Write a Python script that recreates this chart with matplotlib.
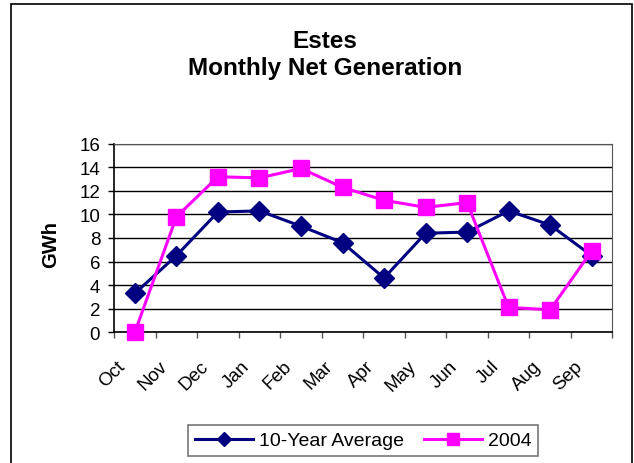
import numpy as np
import matplotlib
matplotlib.use("Agg")
import matplotlib.pyplot as plt
import matplotlib.transforms as mtransforms
from matplotlib.patches import Rectangle

plt.rcParams['font.family'] = ['Liberation Sans', 'DejaVu Sans']

months = ['Oct', 'Nov', 'Dec', 'Jan', 'Feb', 'Mar',
          'Apr', 'May', 'Jun', 'Jul', 'Aug', 'Sep']
avg_10yr = [3.3, 6.5, 10.2, 10.3, 9.0, 7.6, 4.6, 8.4, 8.5, 10.3, 9.1, 6.5]
gen_2004 = [0.0, 9.8, 13.2, 13.1, 13.9, 12.3, 11.2, 10.6, 11.0, 2.1, 1.9, 6.9]
y_ticks = [0, 2, 4, 6, 8, 10, 12, 14, 16]

fig = plt.figure(figsize=(6.34, 4.64), dpi=100)
ax = fig.add_axes([0.18, 0.282, 0.786, 0.406])

# outer chart border
fig.patches.append(Rectangle((11 / 634, -0.01), 621 / 634, 1 - 5 / 464 + 0.01,
                             transform=fig.transFigure, fill=False,
                             edgecolor='black', lw=1.2))

x = np.arange(len(months))
ax.plot(x, avg_10yr, color='#000080', lw=2.2, marker='D', ms=10,
        label='10-Year Average', clip_on=False, zorder=3)
ax.plot(x, gen_2004, color='#FF00FF', lw=2.2, marker='s', ms=11,
        label='2004', clip_on=False, zorder=4)

ax.set_xlim(-0.5, len(months) - 0.5)
ax.set_ylim(0, 16)
ax.set_yticks(y_ticks)
ax.tick_params(axis='y', labelsize=13.5, length=4, width=1, pad=6,
               direction='out')
ax.yaxis.grid(True, color='black', lw=1)
ax.set_axisbelow(True)

ax.set_xticks(np.arange(-0.5, len(months)), labels=[])
ax.set_xticks(x, labels=months, minor=True)
ax.tick_params(axis='x', which='major', length=4, width=1, color='#555555')
ax.tick_params(axis='x', which='minor', length=0, labelsize=13.5, pad=18)
shift = mtransforms.ScaledTranslation(-13 / 72, 0, fig.dpi_scale_trans)
for lbl in ax.get_xticklabels(minor=True):
    lbl.set_rotation(45)
    lbl.set_ha('right')
    lbl.set_va('top')
    lbl.set_rotation_mode('anchor')
    lbl.set_transform(lbl.get_transform() + shift)

ax.spines['left'].set_linewidth(1.2)
ax.spines['bottom'].set_linewidth(1.2)
ax.spines['top'].set_color('#555555')
ax.spines['right'].set_color('#555555')

ax.set_ylabel('GWh', fontsize=14.5, fontweight='bold')
ax.yaxis.set_label_coords(-0.108, 0.47)

fig.text(0.513, 1 - 48 / 464, 'Estes', ha='center', va='baseline',
         fontsize=17.5, fontweight='bold')
fig.text(0.513, 1 - 75 / 464, 'Monthly Net Generation', ha='center',
         va='baseline', fontsize=17.5, fontweight='bold')

leg = ax.legend(loc='center', bbox_to_anchor=(0.5, -0.576), ncol=2,
                fontsize=14, frameon=True, fancybox=False,
                handlelength=3, columnspacing=1.0, handletextpad=0.3,
                borderpad=0.35, markerscale=0.75)
leg.get_frame().set_edgecolor('#555555')
leg.get_frame().set_linewidth(1.2)

fig.savefig('out.png', dpi=100)
